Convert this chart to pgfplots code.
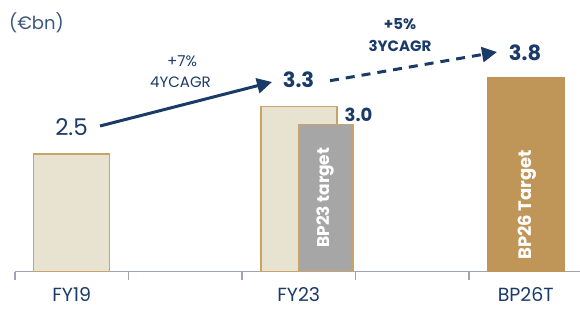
\documentclass[border=0pt]{standalone}
\usepackage{fontspec}
\setmainfont{Poppins}
\usepackage{pgfplots}
\pgfplotsset{compat=1.18}
\usetikzlibrary{arrows.meta}
\definecolor{navy}{HTML}{1A3A68}
\definecolor{axisgray}{HTML}{A0A4B8}
\definecolor{beige}{HTML}{E8E2D0}
\definecolor{tan}{HTML}{C9A468}
\definecolor{midgray}{HTML}{A6A6A6}
\definecolor{gold}{HTML}{BF9657}
\begin{document}
\begin{tikzpicture}[x=1pt,y=1pt]
\useasboundingbox (0,0) rectangle (580,311);
\begin{axis}[
  at={(15pt,39.3pt)}, anchor=south west,
  scale only axis, width=565pt, height=271.7pt,
  xmin=-0.5, xmax=4.478, ymin=0.5, ymax=5.113,
  axis x line*=bottom, axis y line=none,
  x axis line style={axisgray, line width=1.2pt},
  xtick={0,2,4}, xticklabels={FY19,FY23,BP26T},
  major tick length=0pt,
  minor xtick={-0.5,0.5,1.5,2.5,3.5},
  minor tick length=8pt, tick align=outside,
  minor tick style={axisgray, line width=1.2pt},
  x tick label style={font=\fontsize{19}{22}\selectfont, text=navy, yshift=-12pt},
  ytick=\empty,
]
\addplot[ybar, bar shift=0pt, bar width=0.67, fill=beige, draw=tan, line width=1.2pt] coordinates {(0,2.5)};
\addplot[ybar, bar shift=0pt, bar width=0.67, fill=beige, draw=tan, line width=1.2pt] coordinates {(2.002,3.3)};
\addplot[ybar, bar shift=0pt, bar width=0.476, fill=midgray, draw=tan, line width=1.2pt] coordinates {(2.24,3.0)};
\addplot[ybar, bar shift=0pt, bar width=0.68, fill=gold, draw=gold, line width=0.5pt] coordinates {(3.998,3.8)};
\end{axis}
% annotations
\node[anchor=west, text=navy!85, font=\fontsize{18}{20}\selectfont, inner sep=0pt] at (9,288.5) {(€bn)};
\node[text=navy, font=\fontsize{23}{26}\selectfont, inner sep=0pt] at (71.5,183.5) {2.5};
\node[text=navy, font=\bfseries\fontsize{21}{24}\selectfont, inner sep=0pt] at (298.5,231) {3.3};
\node[text=navy, font=\bfseries\fontsize{18}{22}\selectfont, inner sep=0pt] at (358.5,196.5) {3.0};
\node[text=navy, font=\bfseries\fontsize{21}{24}\selectfont, inner sep=0pt] at (525,257.7) {3.8};
\node[text=navy, font=\fontsize{15}{18}\selectfont, inner sep=0pt] at (182,249.5) {+7\%};
\node[text=navy, font=\fontsize{15}{18}\selectfont, inner sep=0pt] at (180.5,229) {4YCAGR};
\node[text=navy, font=\bfseries\fontsize{15}{18}\selectfont, inner sep=0pt] at (400,286.5) {+5\%};
\node[text=navy, font=\bfseries\fontsize{15}{18}\selectfont, inner sep=0pt] at (400,265) {3YCAGR};
\draw[navy, line width=3pt, -{Triangle[length=15pt,width=15pt]}] (100,185) -- (272,229);
\draw[navy, line width=3pt, dash pattern=on 9pt off 7pt, -{Triangle[length=15pt,width=15pt]}] (330,230.3) -- (497,259);
\node[rotate=90, anchor=west, text=white, font=\bfseries\fontsize{17}{19}\selectfont, inner sep=0pt] at (325,63) {BP23 target};
\node[rotate=90, anchor=west, text=white, font=\bfseries\fontsize{18}{20}\selectfont, inner sep=0pt] at (527,51) {BP26 Target};
\end{tikzpicture}
\end{document}
